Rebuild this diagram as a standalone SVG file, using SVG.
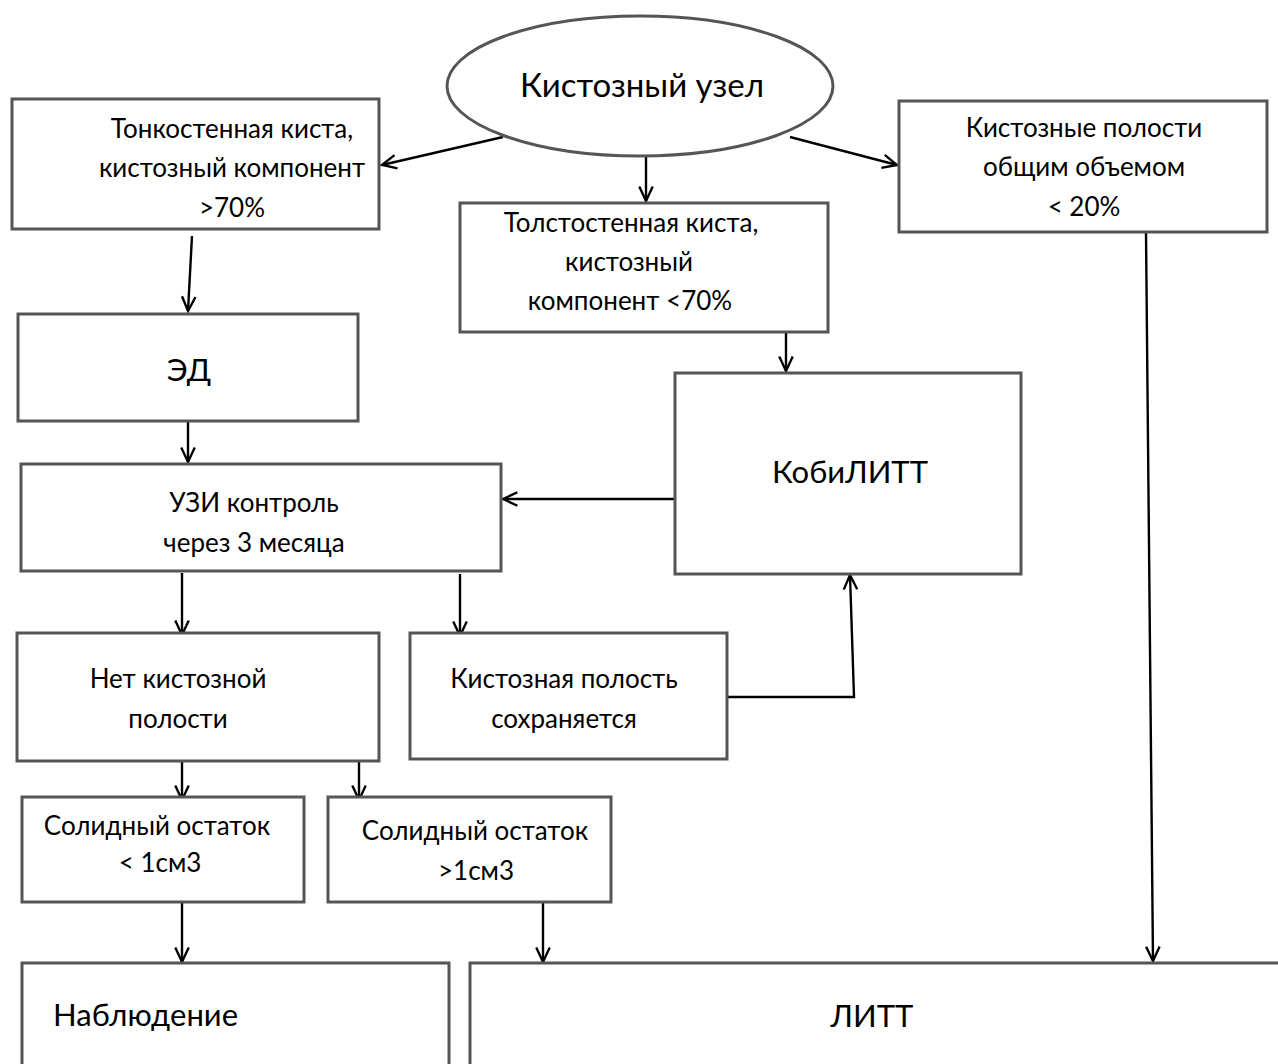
<svg xmlns="http://www.w3.org/2000/svg" width="1278" height="1064" viewBox="0 0 1278 1064">
<style>
.box{fill:#fff;stroke:#555;stroke-width:3}
.t{font-family:Lato,"Open Sans","Liberation Sans",sans-serif;font-size:26px;fill:#000;text-anchor:middle}
.big{font-size:31px}
.c{fill:none;stroke:#000;stroke-width:2.4}
</style>
<defs>
<marker id="a" viewBox="0 0 20 20" refX="18" refY="10" markerWidth="18" markerHeight="18" markerUnits="userSpaceOnUse" orient="auto">
<path d="M2,2.5 L18,10 L2,17.5" fill="none" stroke="#000" stroke-width="2.6"/>
</marker>
</defs>
<rect width="1278" height="1064" fill="#fff"/>
<g id="connectors">
<line class="c" x1="503" y1="137" x2="382" y2="165" marker-end="url(#a)"/>
<line class="c" x1="646" y1="156" x2="646" y2="201" marker-end="url(#a)"/>
<line class="c" x1="790" y1="137" x2="897" y2="165" marker-end="url(#a)"/>
<line class="c" x1="192" y1="236" x2="188" y2="311" marker-end="url(#a)"/>
<line class="c" x1="1146" y1="233" x2="1153" y2="961" marker-end="url(#a)"/>
<line class="c" x1="786" y1="333" x2="786" y2="371" marker-end="url(#a)"/>
<line class="c" x1="188" y1="421" x2="188" y2="462" marker-end="url(#a)"/>
<line class="c" x1="674" y1="499" x2="503" y2="499" marker-end="url(#a)"/>
<line class="c" x1="182" y1="573" x2="182" y2="635" marker-end="url(#a)"/>
<line class="c" x1="460" y1="574" x2="460" y2="636" marker-end="url(#a)"/>
<polyline class="c" points="727,697 854,697 850,575" marker-end="url(#a)"/>
<line class="c" x1="182" y1="762" x2="182" y2="800" marker-end="url(#a)"/>
<line class="c" x1="359" y1="762" x2="359" y2="800" marker-end="url(#a)"/>
<line class="c" x1="182" y1="903" x2="182" y2="962" marker-end="url(#a)"/>
<line class="c" x1="543" y1="903" x2="543" y2="962" marker-end="url(#a)"/>
</g>
<g id="n-root">
<ellipse cx="640" cy="86" rx="193" ry="70" fill="#fff" stroke="#555" stroke-width="3"/>
<text class="t" x="642" y="97" style="font-size:33px">Кистозный узел</text>
</g>
<g id="n-thin">
<rect class="box" x="12" y="99" width="367" height="130"/>
<text class="t" x="232" y="138">Тонкостенная киста,</text>
<text class="t" x="232" y="177">кистозный компонент</text>
<text class="t" x="232" y="217">&gt;70%</text>
</g>
<g id="n-thick">
<rect class="box" x="460" y="203" width="368" height="129"/>
<text class="t" x="631" y="232">Толстостенная киста,</text>
<text class="t" x="629" y="271">кистозный</text>
<text class="t" x="630" y="310">компонент &lt;70%</text>
</g>
<g id="n-small">
<rect class="box" x="899" y="101" width="368" height="131"/>
<text class="t" x="1084" y="137">Кистозные полости</text>
<text class="t" x="1084" y="176">общим объемом</text>
<text class="t" x="1084" y="216">&lt; 20%</text>
</g>
<g id="n-ed">
<rect class="box" x="18" y="314" width="340" height="107"/>
<text class="t big" x="189" y="381">ЭД</text>
</g>
<g id="n-kobi">
<rect class="box" x="675" y="373" width="346" height="201"/>
<text class="t big" x="850" y="483">КобиЛИТТ</text>
</g>
<g id="n-uzi">
<rect class="box" x="21" y="464" width="480" height="107"/>
<text class="t" x="254" y="512">УЗИ контроль</text>
<text class="t" x="254" y="552">через 3 месяца</text>
</g>
<g id="n-none">
<rect class="box" x="17" y="633" width="362" height="128"/>
<text class="t" x="178" y="688">Нет кистозной</text>
<text class="t" x="178" y="728">полости</text>
</g>
<g id="n-remains">
<rect class="box" x="410" y="633" width="317" height="126"/>
<text class="t" x="564" y="688">Кистозная полость</text>
<text class="t" x="564" y="728">сохраняется</text>
</g>
<g id="n-sol1">
<rect class="box" x="22" y="797" width="282" height="105"/>
<text class="t" x="157" y="835">Солидный остаток</text>
<text class="t" x="160" y="872">&lt; 1см3</text>
</g>
<g id="n-sol2">
<rect class="box" x="328" y="797" width="283" height="105"/>
<text class="t" x="475" y="840">Солидный остаток</text>
<text class="t" x="476" y="880">&gt;1см3</text>
</g>
<g id="n-obs">
<rect class="box" x="22" y="963" width="427" height="120"/>
<text class="t big" x="53" y="1026" style="text-anchor:start">Наблюдение</text>
</g>
<g id="n-litt">
<rect class="box" x="470" y="963" width="830" height="120"/>
<text class="t big" x="872" y="1027">ЛИТТ</text>
</g>
</svg>
